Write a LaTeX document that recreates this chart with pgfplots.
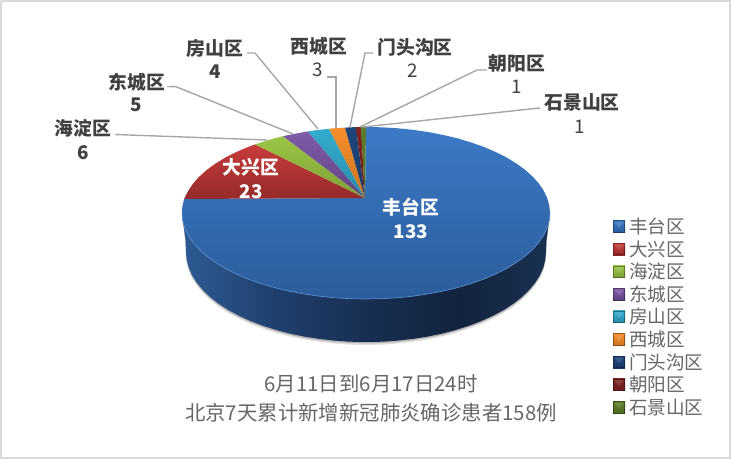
\documentclass[border=0pt]{standalone}
\usepackage{fontspec}
\setmainfont{Noto Sans CJK SC}
\usepackage{pgfplots}
\usepackage{pgfplotstable}
\pgfplotsset{compat=1.18}

\definecolor{labeltext}{HTML}{404040}
\definecolor{softtext}{HTML}{666666}
\definecolor{leader}{HTML}{A6A6A6}
\definecolor{sideA}{HTML}{2D5B94}
\definecolor{sideB}{HTML}{1F3F6C}
\definecolor{sideC}{HTML}{182F52}
\definecolor{sideD}{HTML}{12233D}
\definecolor{sideE}{HTML}{1A3152}
\definecolor{blueT}{HTML}{3C7AC6}
\definecolor{blueB}{HTML}{2C5C9B}
\definecolor{redT}{HTML}{C63C3B}
\definecolor{redB}{HTML}{952A2A}
\definecolor{oliveT}{HTML}{9BC644}
\definecolor{oliveB}{HTML}{7F9E39}
\definecolor{purpleT}{HTML}{7F5BA9}
\definecolor{purpleB}{HTML}{5F4480}
\definecolor{tealT}{HTML}{33ACCE}
\definecolor{tealB}{HTML}{2A8CA8}
\definecolor{orangeT}{HTML}{F68E2B}
\definecolor{orangeB}{HTML}{CC7322}
\definecolor{navyT}{HTML}{1E457C}
\definecolor{navyB}{HTML}{193A68}
\definecolor{maroonT}{HTML}{7F2423}
\definecolor{maroonB}{HTML}{6B1E1E}
\definecolor{greenT}{HTML}{5F7D2A}
\definecolor{greenB}{HTML}{4F6923}
\pgfdeclarehorizontalshading{sidebody}{100bp}{color(0bp)=(sideA); color(25bp)=(sideA); color(38bp)=(sideB); color(50bp)=(sideC); color(63bp)=(sideD); color(75bp)=(sideE); color(100bp)=(sideE)}

% outer outline of the pie body, pixel coordinates
\pgfplotstableread{
x y
182 213
185.5 240
186 252
186.7 259.8
188.7 267.6
192.1 275.3
196.9 282.8
202.9 290
210.1 297
218.5 303.6
228.1 309.9
238.7 315.6
250.3 320.9
262.8 325.7
276 329.9
289.9 333.6
304.4 336.6
319.4 338.9
334.7 340.6
350.3 341.7
366 342
381.7 341.7
397.3 340.6
412.6 338.9
427.6 336.6
442.1 333.6
456 329.9
469.2 325.7
481.7 320.9
493.3 315.6
503.9 309.9
513.5 303.6
521.9 297
529.1 290
535.1 282.8
539.9 275.3
543.3 267.6
545.3 259.8
546 252
546.5 240
550 213
}\pieoutline

\pgfplotsset{
  slice/.style 2 args={draw=none, top color=#1, bottom color=#2},
  legend image code/.code={
    \path[#1] (0bp,-6bp) rectangle (12bp,6bp);
    \fill[white,opacity=.28] (1.5bp,4.5bp) -- (10.5bp,4.5bp) -- (6bp,-1.5bp) -- cycle;
    \draw[black,opacity=.35,line width=.7bp] (.3bp,-5.7bp) rectangle (11.7bp,5.7bp);
  },
}
\newcommand{\lab}[3]{\node[font=\fontsize{18.8bp}{18.8bp}\selectfont#3] at (axis cs:#1) {#2};}

\begin{document}
\begin{tikzpicture}
\path[use as bounding box] (0,0) rectangle (731bp,459bp);
\begin{axis}[
  at={(0,0)}, anchor=south west,
  scale only axis, width=731bp, height=459bp,
  xmin=0, xmax=731, ymin=0, ymax=459, y dir=reverse,
  hide axis, clip=false,
  legend style={
    at={(axis cs:613,216)}, anchor=north west,
    draw=none, fill=none, inner sep=0pt, outer sep=0pt,
    font=\fontsize{18.6bp}{18.6bp}\selectfont\color{softtext},
    row sep=1.6bp,
    nodes={inner sep=0pt, minimum height=21bp},
    /tikz/every odd column/.append style={column sep=4bp},
    /tikz/every even column/.append style={column sep=4bp},
  },
  legend cell align=left,
]
% frame
\addplot[forget plot, draw=black!15, line width=2.4bp] coordinates {(1.2,1.2) (729.8,1.2) (729.8,457.8) (1.2,457.8) (1.2,1.2)};

% body shadow and side
\addplot[forget plot, draw=none, fill=black!12, yshift=-3bp] table {\pieoutline};
\addplot[forget plot, draw=none, fill=black!30, yshift=-1.4bp] table {\pieoutline};
\addplot[forget plot, draw=none, shade, shading=sidebody] table {\pieoutline};

% top face, one polygon per district
\addplot[slice={blueT}{blueB}] coordinates {
(365,198) (366,127) (382,127.3) (398,128.3) (413.6,129.9) (428.9,132.2) (443.8,135.1) (458,138.5) (471.5,142.6) (484.3,147.1) (496.1,152.2) (506.9,157.7) (516.7,163.7) (525.3,170) (532.8,176.7) (538.9,183.6) (543.7,190.7) (547.2,198.1) (549.3,205.5) (550,213)
(549.3,220.5) (547.2,227.9) (543.7,235.3) (538.9,242.4) (532.8,249.3) (525.3,256) (516.7,262.3) (506.9,268.3) (496.1,273.8) (484.3,278.9) (471.5,283.4) (458,287.5) (443.8,290.9) (428.9,293.8) (413.6,296.1) (398,297.7) (382,298.7) (366,299)
(350,298.7) (334,297.7) (318.4,296.1) (303.1,293.8) (288.2,290.9) (274,287.5) (260.5,283.4) (247.7,278.9) (235.9,273.8) (225.1,268.3) (215.3,262.3) (206.7,256) (199.2,249.3) (193.1,242.4) (188.3,235.3) (184.8,227.9) (182.7,220.5) (182,213) (182.7,205.5) (184,199) (365,198)};
\addlegendentry{丰台区}
\addplot[slice={redT}{redB}] coordinates {(365,198) (184,199) (188.3,190.7) (193.1,183.6) (199.2,176.7) (206.7,170) (215.3,163.7) (225.1,157.7) (235.9,152.2) (247.7,147.1) (255,144.4) (365,198)};
\addlegendentry{大兴区}
\addplot[slice={oliveT}{oliveB}] coordinates {(365,198) (255,144.4) (260.5,142.6) (274,138.5) (283,136.2) (365,198)};
\addlegendentry{海淀区}
\addplot[slice={purpleT}{purpleB}] coordinates {(365,198) (283,136.2) (288.2,135.1) (303.1,132.2) (308,131.4) (365,198)};
\addlegendentry{东城区}
\addplot[slice={tealT}{tealB}] coordinates {(365,198) (308,131.4) (318.4,129.9) (329,128.8) (365,198)};
\addlegendentry{房山区}
\addplot[slice={orangeT}{orangeB}] coordinates {(365,198) (329,128.8) (334,128.3) (345,127.6) (365,198)};
\addlegendentry{西城区}
\addplot[slice={navyT}{navyB}] coordinates {(365,198) (345,127.6) (356,127.1) (365,198)};
\addlegendentry{门头沟区}
\addplot[slice={maroonT}{maroonB}] coordinates {(365,198) (356,127.1) (361,127) (365,198)};
\addlegendentry{朝阳区}
\addplot[slice={greenT}{greenB}] coordinates {(365,198) (361,127) (366,127) (365,198)};
\addlegendentry{石景山区}

% lighter rim along the front edge
\addplot[forget plot, draw=blueT!85!white, line width=.7bp] coordinates {
(550,213) (549.3,220.5) (547.2,227.9) (543.7,235.3) (538.9,242.4) (532.8,249.3) (525.3,256) (516.7,262.3) (506.9,268.3) (496.1,273.8) (484.3,278.9) (471.5,283.4) (458,287.5) (443.8,290.9) (428.9,293.8) (413.6,296.1) (398,297.7) (382,298.7) (366,299)
(350,298.7) (334,297.7) (318.4,296.1) (303.1,293.8) (288.2,290.9) (274,287.5) (260.5,283.4) (247.7,278.9) (235.9,273.8) (225.1,268.3) (215.3,262.3) (206.7,256) (199.2,249.3) (193.1,242.4) (188.3,235.3) (184.8,227.9) (182.7,220.5) (182,213)};

% leader lines
\pgfplotsset{leaderline/.style={forget plot, draw=leader, line width=1.4bp}}
\addplot[leaderline] coordinates {(115,134.5) (267,140)};
\addplot[leaderline] coordinates {(167,86.5) (176,86.7) (293,134)};
\addplot[leaderline] coordinates {(247,53) (255,53) (318,129)};
\addplot[leaderline] coordinates {(327,77) (336,77) (336,128)};
\addplot[leaderline] coordinates {(373,53) (365,53) (350,127)};
\addplot[leaderline] coordinates {(487,70) (477,70) (360,127)};
\addplot[leaderline] coordinates {(540,108) (530,109) (363,127)};

% data labels
\lab{83,128}{海淀区}{\bfseries\color{labeltext}}
\lab{83,153}{6}{\bfseries\color{labeltext}}
\lab{137,82}{东城区}{\bfseries\color{labeltext}}
\lab{136,105}{5}{\bfseries\color{labeltext}}
\lab{215,48}{房山区}{\bfseries\color{labeltext}}
\lab{215,72}{4}{\bfseries\color{labeltext}}
\lab{319,46}{西城区}{\bfseries\color{labeltext}}
\lab{318,70}{3}{\color{labeltext}}
\lab{415,47}{门头沟区}{\bfseries\color{labeltext}}
\lab{413,71}{2}{\color{labeltext}}
\lab{517,63}{朝阳区}{\bfseries\color{labeltext}}
\lab{517,87}{1}{\color{labeltext}}
\lab{582,102}{石景山区}{\bfseries\color{labeltext}}
\lab{580,127}{1}{\color{labeltext}}
\lab{251,167}{大兴区}{\bfseries\color{white}}
\lab{251,192}{23}{\bfseries\color{white}}
\lab{411,207}{丰台区}{\bfseries\color{white}}
\lab{411,232}{133}{\bfseries\color{white}}

% caption
\node[font=\fontsize{20.4bp}{20.4bp}\selectfont, text=softtext] at (axis cs:371,384) {6月11日到6月17日24时};
\node[font=\fontsize{20.4bp}{20.4bp}\selectfont, text=softtext] at (axis cs:371,413) {北京7天累计新增新冠肺炎确诊患者158例};
\end{axis}
\end{tikzpicture}
\end{document}
